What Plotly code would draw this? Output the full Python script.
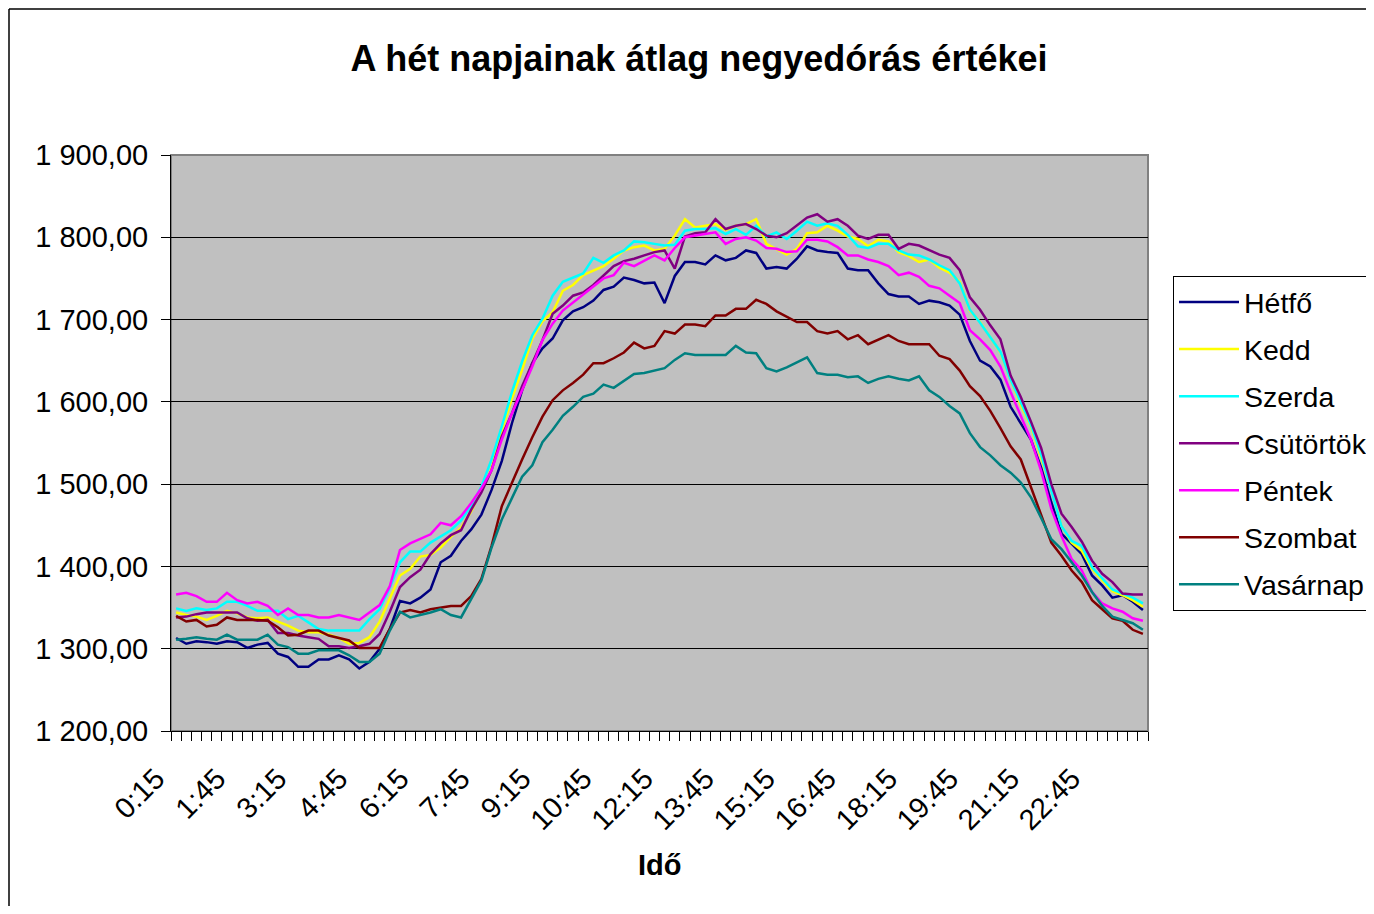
import plotly.graph_objects as go

# 96 quarter-hour categories: 0:15 ... 23:45, 0:00
times = []
for k in range(1, 97):
    m = (k * 15) % (24 * 60)
    times.append(f"{m // 60}:{m % 60:02d}")

label_times = ["0:15", "1:45", "3:15", "4:45", "6:15", "7:45", "9:15", "10:45",
               "12:15", "13:45", "15:15", "16:45", "18:15", "19:45", "21:15", "22:45"]

hetfo = [1313,1306,1309,1308,1306,1309,1308,1301,1305,1307,1294,1290,1278,1278,1287,1287,1292,1287,1276,1284,1300,1324,
         1358,1355,1362,1372,1405,1413,1431,1445,1463,1493,1528,
         1574,1614,1647,1665,1677,1699,1710,1715,1723,1736,1740,1751,1748,
         1744,1745,1720,1753,1770,1770,1767,1778,1772,1775,1784,1781,1762,1764,1762,1774,1789,1784,1782,1781,1762,1760,
         1760,1744,1731,1728,1728,1719,1723,1721,1717,1706,
         1674,1650,1643,1627,1594,1574,1554,1520,1478,1440,1427,1415,1389,1377,1362,1365,1357,1347]

kedd = [1344,1341,1339,1335,1340,1346,1343,1338,1337,1338,1333,1328,1322,1320,1320,1317,1313,1306,1307,1314,1333,1362,
        1389,1397,1412,1414,1423,1436,1447,1467,1492,1519,
        1565,1604,1639,1677,1698,1709,1735,1742,1754,1760,1765,1774,1784,1788,
        1790,1784,1786,1802,1822,1812,1814,1816,1809,1814,1816,1822,1792,1786,1779,1786,1805,1806,1814,1808,1801,1798,
        1789,1797,1795,1782,1777,1770,1773,1763,1757,1746,
        1711,1697,1679,1660,1627,1596,1570,1532,1494,1449,1429,1419,1397,1383,1370,1365,1359,1351]

szerda = [1349,1346,1349,1347,1349,1357,1357,1352,1346,1346,1346,1336,1340,1332,1324,1322,1322,1322,1322,1336,1348,1374,
          1405,1418,1418,1429,1437,1444,1456,1474,1497,1530,
          1570,1612,1649,1681,1701,1729,1746,1751,1756,1775,1769,1778,1784,1795,
          1794,1792,1790,1791,1808,1810,1810,1811,1804,1810,1803,1814,1801,1806,1798,1808,1819,1814,1817,1814,1803,1789,
          1787,1792,1792,1784,1779,1778,1773,1766,1760,1744,
          1712,1696,1678,1661,1627,1600,1572,1536,1494,1449,1431,1425,1399,1386,1372,1367,1362,1355]

csutortok = [1338,1339,1342,1344,1344,1344,1344,1337,1334,1335,1319,1319,1316,1314,1312,1303,1303,1301,1303,1306,1318,1345,
             1375,1387,1396,1415,1428,1438,1444,1469,1490,1517,
             1558,1586,1619,1647,1675,1707,1717,1729,1733,1742,1754,1765,1771,1774,
             1778,1782,1784,1762,1801,1805,1806,1822,1810,1814,1816,1810,1802,1800,1805,1814,1824,1828,1819,1822,1814,1802,
             1798,1803,1803,1786,1792,1790,1784,1779,1775,1760,
             1727,1712,1693,1676,1632,1606,1576,1544,1500,1464,1448,1430,1407,1391,1381,1367,1366,1366]

pentek = [1366,1368,1364,1357,1357,1368,1359,1355,1357,1352,1341,1349,1341,1341,1338,1338,1341,1338,1335,1344,1353,1376,
          1420,1428,1434,1439,1453,1450,1461,1477,1495,1517,
          1554,1586,1614,1643,1675,1695,1711,1721,1731,1740,1750,1754,1769,1765,
          1771,1778,1772,1787,1800,1802,1804,1806,1792,1798,1800,1796,1787,1786,1782,1783,1797,1797,1795,1788,1778,1778,
          1773,1770,1765,1754,1757,1752,1741,1738,1729,1720,
          1687,1676,1663,1643,1612,1582,1554,1516,1470,1437,1409,1395,1369,1355,1349,1345,1337,1334]

szombat = [1340,1333,1335,1327,1329,1338,1335,1335,1335,1334,1326,1316,1317,1322,1322,1316,1313,1310,1301,1301,1301,1324,
           1344,1347,1344,1348,1350,1352,1352,1364,1385,1425,
           1473,1502,1530,1557,1582,1602,1614,1623,1633,1647,1647,1653,1660,1672,
           1665,1668,1686,1683,1694,1694,1692,1705,1705,1713,1713,1724,1719,1710,1703,1697,1697,1686,1683,1686,1676,1681,
           1670,1676,1681,1674,1670,1670,1670,1656,1652,1638,
           1619,1607,1589,1568,1546,1530,1496,1461,1429,1413,1395,1381,1359,1348,1337,1334,1323,1318]

vasarnap = [1311,1312,1314,1312,1311,1317,1311,1311,1311,1317,1305,1302,1294,1294,1298,1298,1298,1292,1284,1284,1294,1322,
            1345,1338,1341,1344,1348,1341,1338,1360,1383,1423,
            1457,1483,1509,1523,1551,1566,1583,1594,1606,1610,1621,1617,1625,1634,
            1635,1638,1641,1651,1659,1657,1657,1657,1657,1668,1660,1659,1641,1637,1642,1648,1654,1635,1633,1633,1630,1631,
            1623,1628,1631,1628,1626,1631,1614,1606,1595,1586,
            1562,1545,1535,1523,1514,1502,1484,1459,1433,1421,1405,1389,1369,1352,1339,1335,1331,1323]

series_names = ["Hétfő", "Kedd", "Szerda", "Csütörtök", "Péntek", "Szombat", "Vasárnap"]
series_values = [hetfo, kedd, szerda, csutortok, pentek, szombat, vasarnap]
series_colors = ["#000080", "#FFFF00", "#00FFFF", "#800080", "#FF00FF", "#800000", "#008080"]

x_idx = list(range(len(times)))
FONT = "Liberation Sans, Arial, sans-serif"

W, H = 1366, 898          # page body has an 8px margin on each side
L, T = 163, 147           # plot-area left / top in figure px
PW, PH = 977, 576         # plot-area size
R, B = W - L - PW, H - T - PH


def px_x(x):  # figure px -> paper x
    return (x - L) / PW


def px_y(y):  # figure px -> paper y
    return (T + PH - y) / PH


fig = go.Figure()
for name, vals, col in zip(series_names, series_values, series_colors):
    fig.add_trace(go.Scatter(
        x=x_idx, y=vals, name=name, mode="lines",
        line=dict(color=col, width=2.5),
        legendgroup=name,
        customdata=times,
        hovertemplate="%{customdata}: %{y:,.2f}<extra>" + name + "</extra>",
    ))

tickvals = [times.index(t) for t in label_times]

fig.update_layout(
    width=W, height=H,
    margin=dict(l=L, r=R, t=T, b=B, autoexpand=False),
    paper_bgcolor="white",
    plot_bgcolor="#C0C0C0",
    separators=", ",
    font=dict(family=FONT, size=29, color="black"),
    title=dict(text="<b>A hét napjainak átlag negyedórás értékei</b>",
               x=(699 - 8) / W, xref="container", xanchor="center",
               y=1 - (58 - 8) / H, yref="container", yanchor="middle",
               font=dict(family=FONT, size=36, color="black")),
    showlegend=True,
    legend=dict(
        x=px_x(1173 - 8), xanchor="left", xref="paper",
        y=px_y(276 - 8), yanchor="top", yref="paper",
        bgcolor="white", bordercolor="black", borderwidth=1,
        font=dict(family=FONT, size=28.5, color="black"),
        traceorder="grouped", tracegroupgap=7,
        itemwidth=60,
    ),
    xaxis=dict(
        range=[-0.5, len(times) - 0.5],
        tickmode="array", tickvals=tickvals, ticktext=label_times,
        tickangle=-45, ticks="", showgrid=False, zeroline=False,
        showline=True, linecolor="black", linewidth=1,
        ticklabelstandoff=18, ticklabelshift=-20,
        tickfont=dict(family=FONT, size=29, color="black"),
        minor=dict(tickmode="linear", tick0=-0.5, dtick=1, ticks="outside",
                   ticklen=9, tickcolor="black", tickwidth=1, showgrid=False),
    ),
    yaxis=dict(
        range=[1200, 1900], tickmode="linear", tick0=1200, dtick=100,
        tickformat=",.2f",
        ticks="outside", ticklen=9, tickcolor="black",
        showgrid=True, gridcolor="black", gridwidth=1, zeroline=False,
        showline=True, linecolor="black", linewidth=1,
        ticklabelstandoff=7,
        tickfont=dict(family=FONT, size=29, color="black"),
    ),
    annotations=[dict(
        text="<b>Idő</b>", x=0.5, xref="paper", y=px_y(865 - 8), yref="paper",
        xanchor="center", yanchor="middle", showarrow=False,
        font=dict(family=FONT, size=29, color="black"),
    )],
    shapes=[
        # gray plot-area border (top & right)
        dict(type="rect", xref="paper", yref="paper", x0=0, x1=1, y0=0, y1=1,
             line=dict(color="#808080", width=2), layer="below"),
        # outer chart frame (left & top)
        dict(type="line", xref="paper", yref="paper",
             x0=px_x(1), x1=px_x(1), y0=px_y(H + 5), y1=px_y(1),
             line=dict(color="black", width=1.5)),
        dict(type="line", xref="paper", yref="paper",
             x0=px_x(1), x1=px_x(W + 5), y0=px_y(1), y1=px_y(1),
             line=dict(color="black", width=1.5)),
    ],
)

fig.write_html("out.html")
